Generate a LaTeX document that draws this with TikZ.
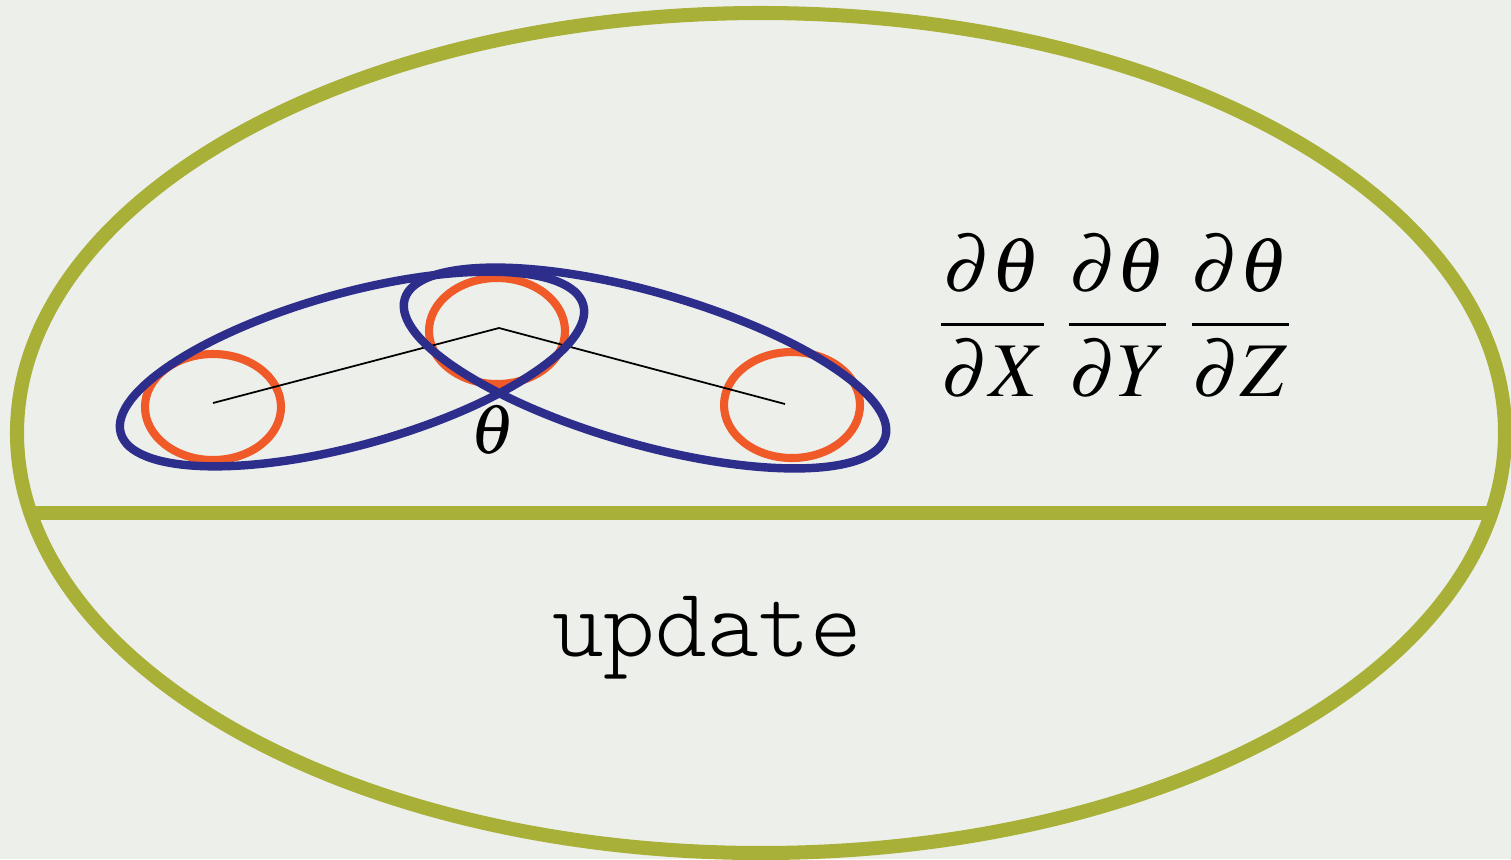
\documentclass[tikz,border=0pt]{standalone}
\usepackage{amsmath,amssymb}
\usepackage{mathptmx}
\usepackage{tikz}
\usetikzlibrary{shapes.geometric}

\definecolor{paper}{RGB}{237,239,235}
\definecolor{olive}{RGB}{168,176,56}
\definecolor{ringorange}{RGB}{240,90,40}
\definecolor{loopblue}{RGB}{45,45,140}

\begin{document}
\begin{tikzpicture}[every node/.style={font=\small},
	frame/.style={line width=4pt, olive},
	ring/.style={ellipse, draw=ringorange, line width=2.3pt, minimum width=1.36cm, minimum height=1.06cm, inner sep=0pt},
	loopline/.style={line width=2.4pt, loopblue}]
	\useasboundingbox[fill=paper] (0,0) rectangle (15.11,8.59);
	\draw[frame] (7.61,4.26) ellipse (7.44 and 4.20);
	\begin{scope}
		\clip (7.61,4.26) ellipse (7.44 and 4.20);
		\draw[frame] (0,3.46) -- (15.11,3.46);
	\end{scope}
	\node[ring] (ringL) at (2.13,4.52) {};
	\node[ring] (ringM) at (4.97,5.28) {};
	\node[ring] (ringR) at (7.92,4.54) {};
	\coordinate (jL) at (2.13,4.56);
	\coordinate (jM) at (4.99,5.31);
	\coordinate (jR) at (7.85,4.55);
	\draw[black, line width=0.5pt] (jL) -- (jM) -- (jR);
	\draw[loopline, rotate around={15.5:(3.52,4.90)}] (3.52,4.90) ellipse (2.40 and 0.76);
	\draw[loopline, rotate around={-16:(6.45,4.91)}] (6.45,4.91) ellipse (2.50 and 0.76);
	\node[font=\fontsize{20}{24}\selectfont] (theta) at (4.93,4.29) {$\theta$};
	\node[font=\fontsize{22}{26}\selectfont] (grads) at (11.15,5.43) {$\dfrac{\partial\theta}{\partial X}\;\dfrac{\partial\theta}{\partial Y}\;\dfrac{\partial\theta}{\partial Z}$};
	\node[font=\fontsize{28}{32}\selectfont\ttfamily\fontseries{l}\selectfont] (update) at (7.07,2.21) {update};
\end{tikzpicture}
\end{document}
